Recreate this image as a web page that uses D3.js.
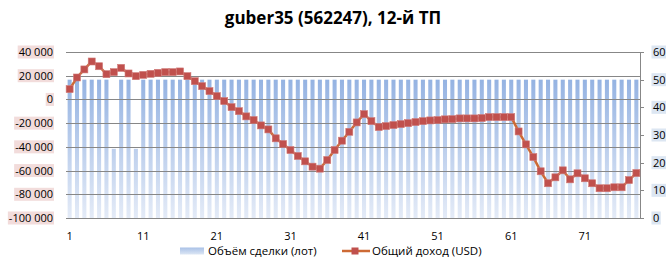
<!DOCTYPE html>
<html lang="ru">
<head>
<meta charset="utf-8">
<title>guber35</title>
<script src="https://cdn.jsdelivr.net/npm/d3@7"></script>
<style>
  body { margin: 0; background: #fff; }
  text { font-family: "Open Sans", "DejaVu Sans", sans-serif; }
</style>
</head>
<body>
<script>
// data
var days = d3.range(1, 79)
var volume = [50,50,50,50,50,50,25,50,50,25, 50,50,50,50,50,50,50,50,50,50,
  50,50,50,50,50,50,50,50,50,50, 50,50,50,50,50,50,50,50,50,50,
  50,50,50,50,50,50,50,50,50,50, 50,50,50,50,50,50,50,50,50,50,
  50,50,50,50,50,50,50,50,50,50, 50,50,50,50,50,50,50,50]
var income = [8700,18500,25300,32000,28000,21300,23000,26600,21900,19600,
  20700,21600,22400,23000,23000,23600,19600,15400,11200,7000,
  2800,-1400,-6500,-9900,-14300,-17400,-21900,-25300,-32800,-37600,
  -42700,-47700,-52200,-56700,-58400,-51100,-42700,-34800,-27300,-19400,
  -12400,-18300,-23300,-22500,-21600,-20800,-20000,-19100,-18300,-17700,
  -17400,-16800,-16600,-16000,-16000,-16000,-15700,-14900,-14900,-14900,
  -14900,-27000,-37900,-48600,-60600,-70700,-65700,-59800,-67400,-62300,
  -66500,-70700,-74900,-74900,-74100,-74100,-68000,-62100]
var leftTicks = [40000,20000,0,-20000,-40000,-60000,-80000,-100000]
var rightTicks = [0,10,20,30,40,50,60]
var xLabels = [1,11,21,31,41,51,61,71]
var title = "guber35 (562247), 12-й ТП"
var legendNames = ["Объём сделки (лот)", "Общий доход (USD)"]

var W = 666, H = 258
var pLeft = 66, pRight = 640, pTop = 52, pBottom = 218

var svg = d3.select("body").append("svg").attr("width", W).attr("height", H)

var x = d3.scaleBand().domain(days).range([pLeft, pRight]).paddingInner(0.45).paddingOuter(0.22)
var yL = d3.scaleLinear().domain([-100000, 40000]).range([pBottom, pTop])
var yR = d3.scaleLinear().domain([0, 60]).range([pBottom, pTop])

// gradient for the bars
var defs = svg.append("defs")
var grad = defs.append("linearGradient").attr("id", "barGrad")
  .attr("gradientUnits", "userSpaceOnUse")
  .attr("x1", 0).attr("y1", yR(50)).attr("x2", 0).attr("y2", pBottom)
grad.append("stop").attr("offset", "0%").attr("stop-color", "#95b3e2")
grad.append("stop").attr("offset", "100%").attr("stop-color", "#e4ebf7")

var legGrad = defs.append("linearGradient").attr("id", "legGrad")
  .attr("x1", 0).attr("y1", 0).attr("x2", 0).attr("y2", 1)
legGrad.append("stop").attr("offset", "0%").attr("stop-color", "#a9c1e7")
legGrad.append("stop").attr("offset", "100%").attr("stop-color", "#dce6f4")

// title
svg.append("text").attr("x", 333).attr("y", 24).attr("text-anchor", "middle")
  .style("font-size", "17px").style("font-weight", "bold").text(title)

// bars
svg.append("g").selectAll("rect").data(volume).enter().append("rect")
  .attr("x", function(d, i) { return x(days[i]) })
  .attr("width", x.bandwidth())
  .attr("y", function(d) { return yR(d) })
  .attr("height", function(d) { return pBottom - yR(d) })
  .attr("fill", "url(#barGrad)")

// gridlines (drawn over the bars like in the picture)
svg.append("g").selectAll("line").data(leftTicks.filter(function(t) { return t > -100000 }))
  .enter().append("line")
  .attr("x1", pLeft).attr("x2", pRight)
  .attr("y1", function(d) { return Math.round(yL(d)) + 0.5 })
  .attr("y2", function(d) { return Math.round(yL(d)) + 0.5 })
  .attr("stroke", "#878787").attr("stroke-width", 1)

// bottom and right axis lines
svg.append("line").attr("x1", pLeft).attr("x2", pRight)
  .attr("y1", pBottom + 0.5).attr("y2", pBottom + 0.5).attr("stroke", "#878787")
svg.append("line").attr("x1", pRight + 0.5).attr("x2", pRight + 0.5)
  .attr("y1", pTop).attr("y2", pBottom).attr("stroke", "#878787")
svg.append("g").selectAll("line").data(rightTicks).enter().append("line")
  .attr("x1", pRight).attr("x2", pRight + 4)
  .attr("y1", function(d) { return Math.round(yR(d)) + 0.5 })
  .attr("y2", function(d) { return Math.round(yR(d)) + 0.5 })
  .attr("stroke", "#878787")

// left tick labels with pink boxes
var fmt = function(v) { return d3.format(",")(v).replace(/,/g, " ").replace("−", "-") }
var lg = svg.append("g")
leftTicks.forEach(function(t) {
  var g = lg.append("g")
  var txt = g.append("text").attr("x", 53).attr("y", yL(t) + 4)
    .attr("text-anchor", "end").style("font-size", "11px").text(fmt(t))
  var bb = txt.node().getBBox()
  g.insert("rect", "text").attr("x", bb.x - 1).attr("y", yL(t) - 6.5)
    .attr("width", bb.width + 2).attr("height", 13).attr("fill", "#f2dcdb")
})

// right tick labels with blue boxes
var rg = svg.append("g")
rightTicks.forEach(function(t) {
  var g = rg.append("g")
  var txt = g.append("text").attr("x", 653).attr("y", yR(t) + 4)
    .style("font-size", "11px").text(t)
  var bb = txt.node().getBBox()
  g.insert("rect", "text").attr("x", 651.5).attr("y", yR(t) - 6.5)
    .attr("width", bb.width + 3).attr("height", 13).attr("fill", "#dce6f2")
})

// x labels
svg.append("g").selectAll("text").data(xLabels).enter().append("text")
  .attr("x", function(d) { return x(d) + x.bandwidth() / 2 })
  .attr("y", 240).attr("text-anchor", "middle").style("font-size", "11px")
  .text(function(d) { return d })

// income line
var line = d3.line()
  .x(function(d, i) { return x(days[i]) + x.bandwidth() / 2 })
  .y(function(d) { return yL(d) })
svg.append("path").datum(income).attr("d", line)
  .attr("fill", "none").attr("stroke", "#cd6a35").attr("stroke-width", 2.5)
svg.append("g").selectAll("rect").data(income).enter().append("rect")
  .attr("x", function(d, i) { return x(days[i]) + x.bandwidth() / 2 - 3.5 })
  .attr("y", function(d) { return yL(d) - 3.5 })
  .attr("width", 7).attr("height", 7)
  .attr("fill", "#c0504d").attr("stroke", "#d07a78").attr("stroke-width", 0.6)

// legend
var leg = svg.append("g")
leg.append("rect").attr("x", 180).attr("y", 247.5).attr("width", 24).attr("height", 7)
  .attr("fill", "url(#legGrad)")
leg.append("text").attr("x", 208).attr("y", 255).style("font-size", "11.5px").text(legendNames[0])
leg.append("line").attr("x1", 342).attr("x2", 370).attr("y1", 251).attr("y2", 251)
  .attr("stroke", "#cd6a35").attr("stroke-width", 2.5)
leg.append("rect").attr("x", 351.5).attr("y", 247.5).attr("width", 7).attr("height", 7)
  .attr("fill", "#c0504d")
leg.append("text").attr("x", 372).attr("y", 255).style("font-size", "11.5px").text(legendNames[1])
</script>
</body>
</html>
